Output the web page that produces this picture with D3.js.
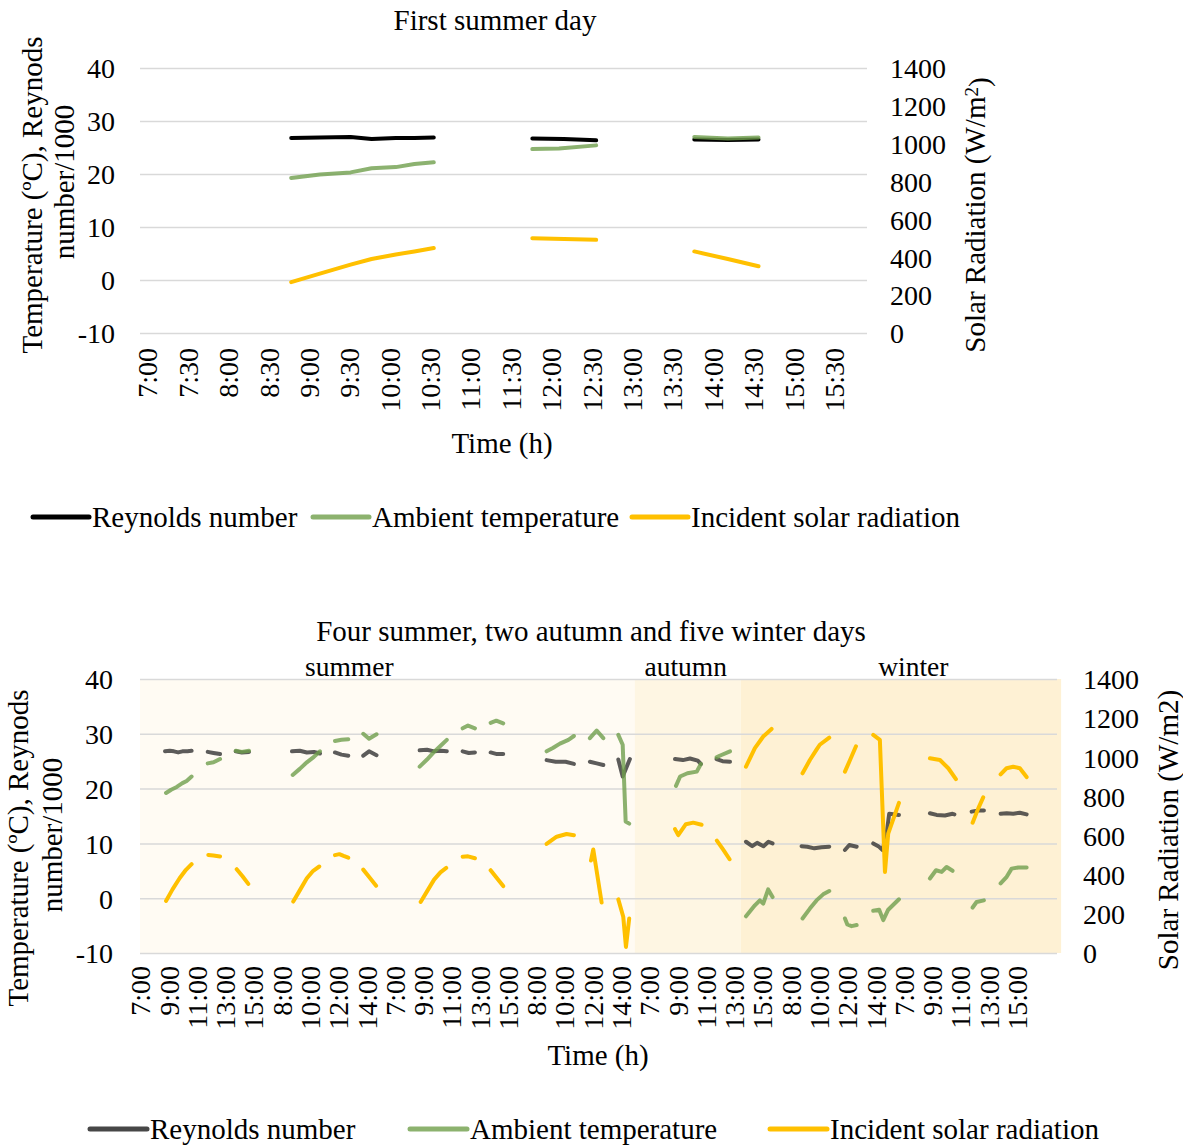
<!DOCTYPE html>
<html lang="en">
<head>
<meta charset="UTF-8">
<title>Reynolds number, ambient temperature and solar radiation</title>
<script src="https://d3js.org/d3.v7.min.js"></script>
<style>
    body { margin: 0; background: #fff; }
    svg { display: block; font-family: "Liberation Serif", "Times New Roman", serif; }
    .grid line { stroke: #d9d9d9; stroke-width: 1.5; }
    .grid path { display: none; }
    .ticks path, .ticks line { display: none; }
    .ticks text { font-family: "Liberation Serif", serif; font-size: 28px; fill: #000; }
    .label { font-size: 29px; fill: #000; text-anchor: middle; }
    .season { font-size: 27.5px; fill: #000; text-anchor: middle; }
    .series { fill: none; stroke-width: 4; stroke-linecap: round; stroke-linejoin: round; }
    .legend text { font-size: 29px; fill: #000; }
</style>
</head>
<body>
<svg id="chart" width="1183" height="1145"></svg>
<script>
// ---- shared axis values ----
var leftTicks = [-10, 0, 10, 20, 30, 40];
var rightTicks = [0, 200, 400, 600, 800, 1000, 1200, 1400];
var seriesNames = ["Reynolds number", "Ambient temperature", "Incident solar radiation"];

// ---- first summer day (x = clock time in hours) ----
var topTimeLabels = ["7:00", "7:30", "8:00", "8:30", "9:00", "9:30", "10:00", "10:30", "11:00",
    "11:30", "12:00", "12:30", "13:00", "13:30", "14:00", "14:30", "15:00", "15:30"];
var topTimeTicks = [7, 7.5, 8, 8.5, 9, 9.5, 10, 10.5, 11, 11.5, 12, 12.5, 13, 13.5, 14, 14.5, 15, 15.5];

var topReynolds = [[8.785, 26.8], [9.14, 26.9], [9.52, 27.0], [9.78, 26.6], [10.08, 26.8], [10.31, 26.8], [10.55, 26.9], null,
    [11.77, 26.7], [12.16, 26.6], [12.56, 26.35], null,
    [13.775, 26.5], [14.19, 26.4], [14.57, 26.5]];
var topAmbient = [[8.785, 19.25], [9.14, 19.9], [9.52, 20.3], [9.78, 21.1], [10.08, 21.3], [10.31, 21.9], [10.55, 22.2], null,
    [11.77, 24.7], [12.1, 24.8], [12.56, 25.4], null,
    [13.775, 27.0], [14.19, 26.7], [14.57, 26.9]];
var topSolar = [[8.785, 269], [9.14, 314], [9.52, 361], [9.78, 391], [10.08, 415], [10.31, 431], [10.55, 449], null,
    [11.77, 501], [12.56, 492], null,
    [13.775, 431], [14.19, 391], [14.57, 353]];

// ---- 11 days (x = running index in hours, 9 h per block) ----
var bottomTimeLabels = ["7:00", "9:00", "11:00", "13:00", "15:00", "8:00", "10:00", "12:00", "14:00",
    "7:00", "9:00", "11:00", "13:00", "15:00", "8:00", "10:00", "12:00", "14:00",
    "7:00", "9:00", "11:00", "13:00", "15:00", "8:00", "10:00", "12:00", "14:00",
    "7:00", "9:00", "11:00", "13:00", "15:00"];
var bottomTimeTicks = d3.range(0, 64, 2);

var seasons = ["summer", "autumn", "winter"];
var seasonStart = [0, 35.0, 42.5];
var seasonEnd = [35.0, 42.5, 65.15];
var seasonLabelAt = [14.8, 38.6, 54.7];
var seasonColors = ["#fffbf3", "#fef6e3", "#fef1d4"];

var bottomReynolds = [
    [1.77, 26.8], [2.1, 26.9], [2.4, 26.8], [2.7, 26.6], [3.0, 26.8], [3.35, 26.8], [3.65, 26.9], null,
    [4.79, 26.7], [5.2, 26.5], [5.66, 26.3], null,
    [6.77, 26.8], [7.2, 26.6], [7.71, 26.7], null,
    [10.75, 26.8], [11.3, 26.9], [11.8, 26.6], [12.3, 26.7], [12.73, 26.4], null,
    [13.79, 26.6], [14.25, 26.2], [14.73, 26.0], null,
    [15.79, 26.0], [16.2, 26.8], [16.73, 26.1], null,
    [19.78, 27.0], [20.3, 27.1], [20.8, 26.8], [21.3, 26.9], [21.7, 26.8], null,
    [22.82, 26.8], [23.25, 26.5], [23.69, 26.6], null,
    [24.8, 26.6], [25.25, 26.3], [25.69, 26.3], null,
    [28.76, 25.2], [29.4, 24.9], [30.1, 24.9], [30.69, 24.5], null,
    [31.82, 24.9], [32.3, 24.6], [32.77, 24.3], null,
    [33.83, 25.3], [34.14, 22.2], [34.65, 25.4], null,
    [37.84, 25.4], [38.4, 25.2], [38.9, 25.5], [39.45, 25.1], [39.67, 24.5], null,
    [40.78, 25.4], [41.2, 25.0], [41.73, 24.9], null,
    [42.86, 10.3], [43.3, 9.5], [43.65, 10.1], [44.1, 9.5], [44.45, 10.3], [44.74, 10.0], null,
    [46.79, 9.5], [47.2, 9.4], [47.7, 9.1], [48.2, 9.3], [48.75, 9.4], null,
    [49.86, 8.8], [50.17, 9.7], [50.69, 9.4], null,
    [51.86, 10.0], [52.22, 9.5], [52.52, 8.8], [52.81, 11.8], [52.99, 15.4], [53.68, 15.2], null,
    [55.87, 15.5], [56.34, 15.2], [56.93, 15.1], [57.47, 15.4], [57.6, 15.3], null,
    [58.82, 15.8], [59.3, 16.0], [59.69, 16.0], null,
    [60.87, 15.4], [61.3, 15.5], [61.76, 15.4], [62.23, 15.6], [62.71, 15.3]];

var bottomAmbient = [
    [1.84, 19.2], [2.2, 19.8], [2.6, 20.3], [3.0, 21.0], [3.3, 21.4], [3.65, 22.2], null,
    [4.79, 24.6], [5.2, 24.8], [5.66, 25.4], null,
    [6.77, 26.9], [7.2, 26.7], [7.71, 26.9], null,
    [10.8, 22.5], [11.3, 23.6], [11.8, 24.8], [12.3, 25.8], [12.73, 26.8], null,
    [13.79, 28.7], [14.25, 28.9], [14.73, 29.0], null,
    [15.79, 30.0], [16.2, 29.1], [16.73, 29.9], null,
    [19.78, 24.0], [20.3, 25.3], [20.8, 26.7], [21.3, 27.9], [21.7, 28.9], null,
    [22.82, 31.0], [23.2, 31.5], [23.69, 31.0], null,
    [24.8, 32.0], [25.2, 32.4], [25.69, 31.9], null,
    [28.76, 26.8], [29.2, 27.4], [29.7, 28.2], [30.3, 28.9], [30.69, 29.6], null,
    [31.82, 29.2], [32.3, 30.6], [32.77, 29.2], null,
    [33.83, 29.8], [34.14, 28.0], [34.35, 14.0], [34.6, 13.6], null,
    [37.91, 20.5], [38.2, 22.2], [38.72, 22.8], [39.38, 23.1], [39.67, 24.5], null,
    [40.78, 25.7], [41.0, 26.0], [41.73, 26.8], null,
    [42.86, -3.3], [43.49, -1.3], [43.84, -0.4], [44.08, -1.0], [44.43, 1.6], [44.74, 0.2], null,
    [46.86, -3.7], [47.38, -1.9], [47.85, -0.4], [48.32, 0.7], [48.75, 1.3], null,
    [49.86, -3.7], [50.03, -4.8], [50.33, -5.1], [50.69, -4.9], null,
    [51.86, -2.3], [52.28, -2.1], [52.57, -4.0], [52.92, -2.1], [53.68, -0.2], null,
    [55.87, 3.6], [56.3, 5.1], [56.7, 4.8], [57.05, 5.7], [57.47, 5.0], null,
    [58.89, -1.7], [59.17, -0.7], [59.69, -0.4], null,
    [60.87, 2.7], [61.3, 3.9], [61.65, 5.4], [62.12, 5.6], [62.71, 5.6]];

var bottomSolar = [
    [1.84, 266], [2.3, 325], [2.8, 382], [3.25, 425], [3.65, 454], null,
    [4.83, 501], [5.19, 498], [5.66, 493], null,
    [6.84, 428], [7.25, 392], [7.66, 353], null,
    [10.84, 263], [11.3, 320], [11.8, 382], [12.25, 420], [12.68, 442], null,
    [13.79, 500], [14.1, 505], [14.4, 496], [14.73, 487], null,
    [15.79, 426], [16.25, 385], [16.7, 344], null,
    [19.85, 261], [20.3, 315], [20.8, 375], [21.25, 412], [21.66, 435], null,
    [22.82, 492], [23.2, 494], [23.69, 484], null,
    [24.8, 423], [25.25, 382], [25.69, 342], null,
    [28.76, 557], [29.47, 594], [30.17, 608], [30.69, 602], null,
    [31.9, 473], [32.06, 529], [32.65, 258], null,
    [33.83, 274], [34.18, 185], [34.37, 31], [34.6, 176], null,
    [37.84, 633], [38.07, 602], [38.61, 658], [39.13, 666], [39.72, 655], null,
    [40.8, 574], [41.25, 528], [41.7, 479], null,
    [42.86, 952], [43.49, 1047], [44.08, 1106], [44.67, 1145], null,
    [46.86, 918], [47.38, 986], [47.85, 1039], [48.08, 1064], [48.75, 1100], null,
    [49.86, 927], [50.22, 986], [50.64, 1056], null,
    [51.86, 1114], [52.33, 1089], [52.69, 414], [52.92, 610], [53.68, 767], null,
    [55.87, 995], [56.58, 986], [57.17, 944], [57.71, 888], null,
    [58.89, 666], [59.29, 739], [59.64, 795], null,
    [60.87, 913], [61.29, 944], [61.76, 952], [62.23, 944], [62.71, 899]];

var svg = d3.select("#chart");

function drawPanel(opt) {
    var g = svg.append("g");
    var x = d3.scaleLinear().domain(opt.xDomain).range([opt.left, opt.right]);
    var yL = d3.scaleLinear().domain([-10, 40]).range([opt.bottom, opt.top]);
    var yR = d3.scaleLinear().domain([0, 1400]).range([opt.bottom, opt.top]);

    // season shading (bottom panel only)
    if (opt.bands) {
        g.selectAll(".band")
            .data(seasons)
            .enter().append("rect")
            .attr("x", function(d, i) { return x(seasonStart[i]); })
            .attr("width", function(d, i) { return x(seasonEnd[i]) - x(seasonStart[i]); })
            .attr("y", opt.top)
            .attr("height", opt.bottom - opt.top)
            .attr("fill", function(d, i) { return seasonColors[i]; });
        g.selectAll(".season")
            .data(seasons)
            .enter().append("text")
            .attr("class", "season")
            .attr("x", function(d, i) { return x(seasonLabelAt[i]); })
            .attr("y", opt.top - 3)
            .text(function(d) { return d; });
    }

    // gridlines
    g.append("g")
        .attr("class", "grid")
        .attr("transform", "translate(" + opt.left + ",0)")
        .call(d3.axisLeft(yL).tickValues(leftTicks).tickSize(-(opt.gridRight - opt.left)).tickFormat(""));

    // left / right tick labels (plain hyphen minus, no thousands separator)
    g.append("g")
        .attr("class", "ticks")
        .attr("transform", "translate(" + opt.leftLabelX + ",0)")
        .call(d3.axisLeft(yL).tickValues(leftTicks).tickSize(0).tickPadding(0)
            .tickFormat(function(d) { return String(d); }))
        .selectAll("text").attr("dy", "0.35em");
    g.append("g")
        .attr("class", "ticks")
        .attr("transform", "translate(" + opt.rightLabelX + ",0)")
        .call(d3.axisRight(yR).tickValues(rightTicks).tickSize(0).tickPadding(0)
            .tickFormat(function(d) { return String(d); }))
        .selectAll("text").attr("dy", "0.35em");

    // category labels, rotated
    g.append("g")
        .attr("class", "ticks")
        .attr("transform", "translate(0," + opt.bottom + ")")
        .call(d3.axisBottom(x).tickValues(opt.xTicks).tickSize(0)
            .tickFormat(function(d, i) { return opt.xLabels[i]; }))
        .selectAll("text")
        .attr("transform", "rotate(-90)")
        .attr("x", -opt.xLabelPad)
        .attr("y", 0)
        .attr("dy", "0.35em")
        .style("text-anchor", "end");

    // series
    var lineL = d3.line().defined(function(d) { return d; })
        .x(function(d) { return x(d[0]); }).y(function(d) { return yL(d[1]); });
    var lineR = d3.line().defined(function(d) { return d; })
        .x(function(d) { return x(d[0]); }).y(function(d) { return yR(d[1]); });

    g.append("path").datum(opt.reynolds).attr("class", "series")
        .attr("stroke", opt.colors[0]).attr("stroke-opacity", opt.opacity[0]).attr("d", lineL);
    g.append("path").datum(opt.ambient).attr("class", "series")
        .attr("stroke", opt.colors[1]).attr("stroke-opacity", opt.opacity[1]).attr("d", lineL);
    g.append("path").datum(opt.solar).attr("class", "series")
        .attr("stroke", opt.colors[2]).attr("stroke-opacity", opt.opacity[2]).attr("d", lineR);

    // titles
    g.append("text").attr("class", "label")
        .attr("x", opt.titleX).attr("y", opt.titleY).attr("dy", "0.35em").text(opt.title);
    g.append("text").attr("class", "label")
        .attr("x", opt.xTitleX).attr("y", opt.xTitleY).attr("dy", "0.35em").text("Time (h)");
    g.append("text").attr("class", "label")
        .attr("transform", "translate(" + opt.yTitle1[0] + "," + opt.yTitle1[1] + ") rotate(-90)")
        .attr("dy", "0.35em").text("Temperature (ºC), Reynods");
    g.append("text").attr("class", "label")
        .attr("transform", "translate(" + opt.yTitle2[0] + "," + opt.yTitle2[1] + ") rotate(-90)")
        .attr("dy", "0.35em").text("number/1000");
    var rt = g.append("text").attr("class", "label")
        .attr("transform", "translate(" + opt.rTitle[0] + "," + opt.rTitle[1] + ") rotate(-90)")
        .attr("dy", "0.35em");
    if (opt.superscript) {
        rt.append("tspan").text("Solar Radiation (W/m");
        rt.append("tspan").attr("dy", "-0.4em").style("font-size", "19px").text("2");
        rt.append("tspan").attr("dy", "0.4em").text(")");
    } else {
        rt.text("Solar Radiation (W/m2)");
    }

    // legend
    var leg = g.append("g").attr("class", "legend");
    seriesNames.forEach(function(name, i) {
        leg.append("line")
            .attr("x1", opt.legendX[i]).attr("x2", opt.legendX[i] + opt.legendLen)
            .attr("y1", opt.legendY).attr("y2", opt.legendY)
            .attr("stroke", opt.legendColors[i]).attr("stroke-width", 5).attr("stroke-linecap", "round");
        leg.append("text")
            .attr("x", opt.legendX[i] + opt.legendLen + 3).attr("y", opt.legendY)
            .attr("dy", "0.35em").text(name);
    });
}

drawPanel({
    xDomain: [6.913, 15.913], left: 140, right: 867, gridRight: 867,
    top: 68, bottom: 333,
    leftLabelX: 115, rightLabelX: 890,
    xTicks: topTimeTicks, xLabels: topTimeLabels, xLabelPad: 15,
    reynolds: topReynolds, ambient: topAmbient, solar: topSolar,
    colors: ["#000000", "#6f9f4c", "#ffc000"], opacity: [1, 0.8, 1],
    legendColors: ["#000000", "#8cb26e", "#ffc000"],
    title: "First summer day", titleX: 495, titleY: 20,
    xTitleX: 502, xTitleY: 443,
    yTitle1: [32, 195], yTitle2: [64, 182], rTitle: [975, 215], superscript: true,
    legendX: [33, 313, 632], legendLen: 56, legendY: 517
});

drawPanel({
    xDomain: [0, 65], left: 140, right: 1059, gridRight: 1057,
    top: 679, bottom: 953, bands: true,
    leftLabelX: 113, rightLabelX: 1083,
    xTicks: bottomTimeTicks, xLabels: bottomTimeLabels, xLabelPad: 13,
    reynolds: bottomReynolds, ambient: bottomAmbient, solar: bottomSolar,
    colors: ["#333333", "#6f9f4c", "#ffc000"], opacity: [0.8, 0.8, 1],
    legendColors: ["#474747", "#8cb26e", "#ffc000"],
    title: "Four summer, two autumn and five winter days", titleX: 591, titleY: 631,
    xTitleX: 598, xTitleY: 1055,
    yTitle1: [18, 848], yTitle2: [52, 835], rTitle: [1168, 830], superscript: false,
    legendX: [90, 410, 770], legendLen: 57, legendY: 1129
});
</script>
</body>
</html>
